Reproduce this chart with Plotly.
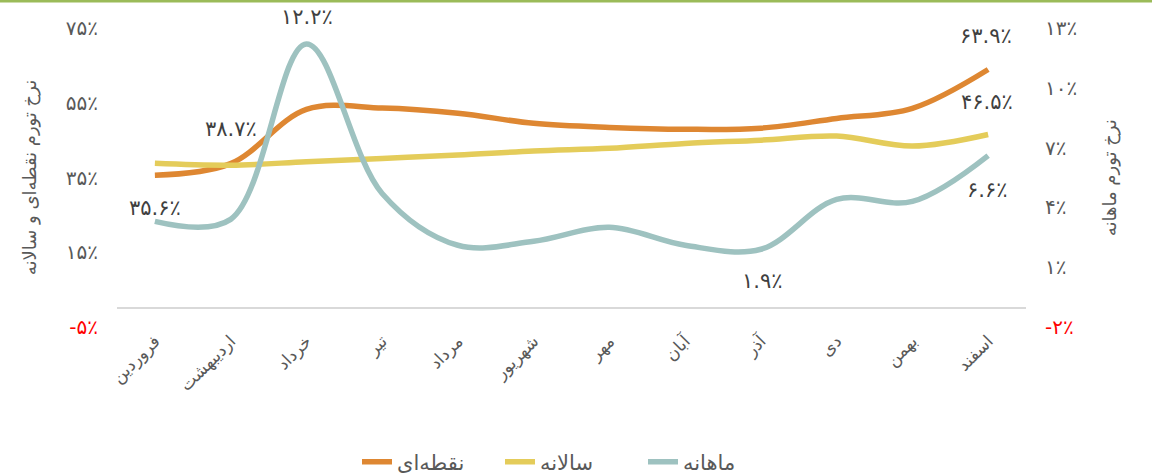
import plotly.graph_objects as go

months = ["فروردین", "اردیبهشت", "خرداد", "تیر", "مرداد", "شهریور",
          "مهر", "آبان", "آذر", "دی", "بهمن", "اسفند"]
point_to_point = [35.6, 38.7, 53.2, 53.6, 52.2, 49.5, 48.4, 47.9, 48.2, 50.8, 53.5, 63.9]
yearly = [38.8, 38.3, 39.2, 40.1, 41.0, 42.1, 42.8, 44.1, 45.0, 46.1, 43.4, 46.5]
monthly = [3.3, 3.4, 12.2, 4.7, 2.1, 2.3, 3.0, 2.1, 1.9, 4.4, 4.3, 6.6]

left_ticks = [-5, 15, 35, 55, 75]
right_ticks = [-2, 1, 4, 7, 10, 13]

series_names = ["نقطه‌ای", "سالانه", "ماهانه"]
colors = ["#DE8732", "#E4CC5A", "#9EC2C0"]

FA = str.maketrans("0123456789", "۰۱۲۳۴۵۶۷۸۹")


def fa(v, dec=None):
    s = f"{v:.{dec}f}" if dec is not None else f"{v:g}"
    return s.translate(FA) + "٪"


def tick_text(vals):
    out = []
    for v in vals:
        t = fa(v)
        if v < 0:
            t = f'<span style="color:#FF0000">{t}</span>'
        out.append(t)
    return out


FONT = "DejaVu Sans"
GREY = "#595959"

fig = go.Figure()
for vals, name, col, ax in [(point_to_point, series_names[0], colors[0], "y"),
                            (yearly, series_names[1], colors[1], "y"),
                            (monthly, series_names[2], colors[2], "y2")]:
    fig.add_trace(go.Scatter(x=months, y=vals, name=name, mode="lines",
                             line=dict(color=col, width=5.5, shape="spline", smoothing=1.0),
                             yaxis=ax))

# data labels: (series values, index, axis, xshift, yshift)
labels = [
    (point_to_point, 0, "y", 0, -33),
    (point_to_point, 1, "y", 0, 35),
    (point_to_point, 11, "y", -2, 33),
    (yearly, 11, "y", -1, 33),
    (monthly, 2, "y2", 1, 27),
    (monthly, 8, "y2", 2, -32),
    (monthly, 11, "y2", -1, -34),
]
for vals, i, ax, xs, ys in labels:
    fig.add_annotation(x=months[i], y=vals[i], xref="x", yref=ax,
                       text=fa(vals[i], 1), showarrow=False,
                       xshift=xs, yshift=ys,
                       font=dict(family=FONT, size=21, color="#404040"))

# axis titles
fig.add_annotation(text="نرخ تورم نقطه‌ای و سالانه", textangle=-90,
                   xref="paper", yref="paper", x=-0.096, y=0.5,
                   xanchor="center", yanchor="middle", showarrow=False,
                   font=dict(family=FONT, size=18, color=GREY))
fig.add_annotation(text="نرخ تورم ماهانه", textangle=-90,
                   xref="paper", yref="paper", x=1.092, y=0.5,
                   xanchor="center", yanchor="middle", showarrow=False,
                   font=dict(family=FONT, size=18, color=GREY))

# top green rule
fig.add_shape(type="line", xref="paper", yref="paper",
              x0=-0.13, x1=1.14, y0=1.0903, y1=1.0903,
              line=dict(color="#9BBB59", width=3))

fig.update_layout(
    width=1152, height=476,
    margin=dict(l=117, r=126, t=28, b=149, autoexpand=False),
    paper_bgcolor="white", plot_bgcolor="white",
    font=dict(family=FONT, size=16, color=GREY),
    showlegend=True,
    legend=dict(orientation="h", x=0.5, xanchor="center", y=-0.452, yanchor="middle",
                entrywidth=98, entrywidthmode="pixels",
                font=dict(family=FONT, size=21, color=GREY)),
    xaxis=dict(type="category", range=[-0.5, 11.5], tickangle=-45, showgrid=False,
               showline=False, zeroline=False, ticks="", automargin=False,
               tickfont=dict(family=FONT, size=17, color=GREY)),
    yaxis=dict(range=[-5, 75], tickvals=left_ticks, ticktext=tick_text(left_ticks),
               showgrid=False, showline=False, zeroline=True, zerolinecolor="#D9D9D9",
               zerolinewidth=2, ticks="", ticklabelstandoff=18, automargin=False,
               tickfont=dict(family=FONT, size=20, color=GREY)),
    yaxis2=dict(range=[-2, 13], tickvals=right_ticks, ticktext=tick_text(right_ticks),
                overlaying="y", side="right", showgrid=False, showline=False,
                zeroline=False, ticks="", ticklabelstandoff=18, automargin=False,
                tickfont=dict(family=FONT, size=20, color=GREY)),
)

fig.write_html("out.html", config={"displayModeBar": False},
               post_script="document.body.style.margin='0';")
